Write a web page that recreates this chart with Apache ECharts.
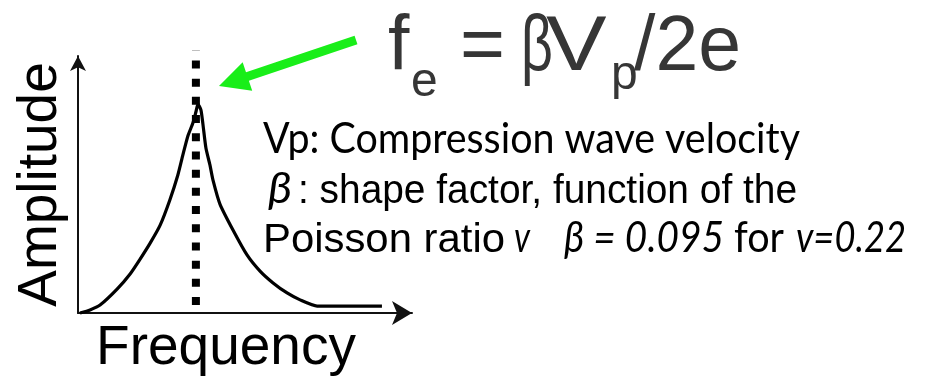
<!DOCTYPE html>
<html>
<head>
<meta charset="utf-8">
<script src="https://cdn.jsdelivr.net/npm/echarts@6/dist/echarts.min.js"></script>
<style>
  html, body { margin: 0; padding: 0; background: #ffffff; }
  #chart { width: 930px; height: 381px; }
</style>
</head>
<body>
<div id="chart"></div>
<script>
// Resonance spectrum of a sample: amplitude against frequency (arbitrary units, 0-100)
const frequency = [0.6, 3.6, 6.6, 11.7, 15.6, 18.6, 21.6, 24.6, 27.5, 29.9, 31.4, 32.9, 34.4, 35.3, 35.9,
                   36.8, 37.4, 38.3, 39.5, 40.4, 42.5, 46.4, 50.6, 54.5, 58.4, 62.6, 66.5, 71.6, 91.0];
const amplitude = [0.0, 1.2, 3.1, 9.3, 15.2, 21.0, 27.2, 34.2, 44.0, 53.7, 61.5, 68.9, 73.9, 78.2, 81.3,
                   79.0, 73.5, 64.2, 57.6, 51.8, 42.4, 32.3, 22.6, 16.3, 11.7, 7.8, 5.1, 2.7, 2.7];

// Dotted marker at the resonant frequency f_e
const resonantFrequency = 35.3;
const markerRange = [3.1, 102.3];

const axisTitles = { x: 'Frequency', y: 'Amplitude' };

// Formula pieces: f_e = βV_p/2e
const formulaText = ['f', 'e', '=', 'β', 'V', 'p', '/2e'];
// Note lines, split into runs of differing style
const noteText = [
  ['Vp: Compression wave velocity'],
  ['β', ': shape factor, function of the'],
  ['Poisson ratio', 'v', 'β = 0.095', 'for', 'v=0.22']
];

// ---------- text styles ----------
const STYLES = {
  big:    { size: 77, family: "'Liberation Sans', Arial, sans-serif", italic: false, color: '#363636' },
  sub:    { size: 48, family: "'Liberation Sans', Arial, sans-serif", italic: false, color: '#363636' },
  body:   { size: 42, family: "Lato, 'Noto Sans', sans-serif", italic: false, color: '#000000' },
  bodyIt: { size: 42, family: "Lato, 'Noto Sans', sans-serif", italic: true,  color: '#000000' },
  sans:   { size: 40, family: "'Liberation Sans', Arial, sans-serif", italic: false, color: '#000000' }
};

// Layout of each formula piece: [style, left x, baseline y, horizontal scale]
const formulaLayout = [
  ['big', 388, 70, 1], ['sub', 411, 96, 1], ['big', 460, 70, 1], ['big', 521, 70, 0.72],
  ['big', 546, 70, 1.18], ['sub', 611, 89, 1], ['big', 634, 70, 1]
];
// Layout of each note run: [style, left x, baseline y, target width]
const noteLayout = [
  [['body', 263, 153, 537]],
  [['bodyIt', 268, 203, 24], ['sans', 298, 203, 499]],
  [['sans', 263, 252, 242], ['bodyIt', 514, 252, 16], ['bodyIt', 564, 252, 160],
   ['body', 734, 252, 50], ['bodyIt', 796, 252, 110]]
];

const measureCtx = document.createElement('canvas').getContext('2d');
function fontOf(st) {
  return (st.italic ? 'italic' : 'normal') + ' normal ' + st.size + 'px ' + st.family;
}
function textWidth(text, st) {
  measureCtx.font = fontOf(st);
  measureCtx.textBaseline = 'alphabetic';
  return measureCtx.measureText(text).width;
}
// distance from the alphabetic baseline up to the "middle" baseline used by zrender
function middleOffset(st) {
  measureCtx.font = fontOf(st);
  measureCtx.textBaseline = 'alphabetic';
  const a = measureCtx.measureText('H').fontBoundingBoxAscent;
  measureCtx.textBaseline = 'middle';
  const b = measureCtx.measureText('H').fontBoundingBoxAscent;
  measureCtx.textBaseline = 'alphabetic';
  return (typeof a === 'number' && typeof b === 'number') ? a - b : 0.35 * st.size;
}
function textEl(text, styleKey, x, baseline, scaleX) {
  const st = STYLES[styleKey];
  return {
    type: 'text',
    x: x,
    y: baseline - middleOffset(st),
    scaleX: scaleX,
    silent: true,
    style: { text: text, font: fontOf(st), fill: st.color, align: 'left', verticalAlign: 'middle' }
  };
}

const graphics = [];
formulaText.forEach(function (t, i) {
  const L = formulaLayout[i];
  graphics.push(textEl(t, L[0], L[1], L[2], L[3]));
});
noteText.forEach(function (line, li) {
  line.forEach(function (t, ri) {
    const L = noteLayout[li][ri];
    const w = textWidth(t, STYLES[L[0]]);
    graphics.push(textEl(t, L[0], L[1], L[2], L[3] / w));
  });
});

// Green pointer arrow towards the top of the marker
function arrowShape(tail, tip, shaftW, headL, headW) {
  const dx = tip[0] - tail[0], dy = tip[1] - tail[1];
  const len = Math.sqrt(dx * dx + dy * dy);
  const ux = dx / len, uy = dy / len, nx = -uy, ny = ux;
  const bx = tip[0] - ux * headL, by = tip[1] - uy * headL;
  return [
    [tail[0] + nx * shaftW / 2, tail[1] + ny * shaftW / 2],
    [bx + nx * shaftW / 2, by + ny * shaftW / 2],
    [bx + nx * headW / 2, by + ny * headW / 2],
    tip,
    [bx - nx * headW / 2, by - ny * headW / 2],
    [bx - nx * shaftW / 2, by - ny * shaftW / 2],
    [tail[0] - nx * shaftW / 2, tail[1] - ny * shaftW / 2]
  ];
}
graphics.push({
  type: 'polygon',
  silent: true,
  shape: { points: arrowShape([356, 40], [219, 86], 9, 30, 30) },
  style: { fill: '#19ee19' }
});

const chart = echarts.init(document.getElementById('chart'), null, { renderer: 'canvas' });
chart.setOption({
  animation: false,
  backgroundColor: '#ffffff',
  grid: { left: 78, right: 518, top: 56, bottom: 68, containLabel: false },
  xAxis: {
    type: 'value', min: 0, max: 100,
    name: axisTitles.x, nameLocation: 'middle', nameGap: 8,
    nameTextStyle: { fontFamily: "'Liberation Sans', Arial, sans-serif", fontSize: 55, color: '#000', padding: [0, 38, 0, 0] },
    axisLine: { show: true, symbol: ['none', 'arrow'], symbolSize: [18, 20], lineStyle: { color: '#111', width: 2 } },
    axisTick: { show: false }, axisLabel: { show: false }, splitLine: { show: false }
  },
  yAxis: {
    type: 'value', min: 0, max: 100,
    name: axisTitles.y, nameLocation: 'middle', nameGap: 10,
    nameTextStyle: { fontFamily: "'Liberation Sans', Arial, sans-serif", fontSize: 55, color: '#000' },
    axisLine: { show: true, symbol: ['none', 'arrow'], symbolSize: [12, 15], lineStyle: { color: '#111', width: 2 } },
    axisTick: { show: false }, axisLabel: { show: false }, splitLine: { show: false }
  },
  series: [
    {
      type: 'line',
      data: frequency.map(function (f, i) { return [f, amplitude[i]]; }),
      showSymbol: false,
      smooth: 0.2,
      clip: false,
      lineStyle: { color: '#000', width: 3.2 },
      z: 2
    },
    {
      type: 'line',
      data: markerRange.map(function (a) { return [resonantFrequency, a]; }),
      showSymbol: false,
      clip: false,
      lineStyle: { color: '#000', width: 8, type: [8, 10.2], cap: 'butt' },
      z: 3
    }
  ],
  graphic: graphics
});
</script>
</body>
</html>
